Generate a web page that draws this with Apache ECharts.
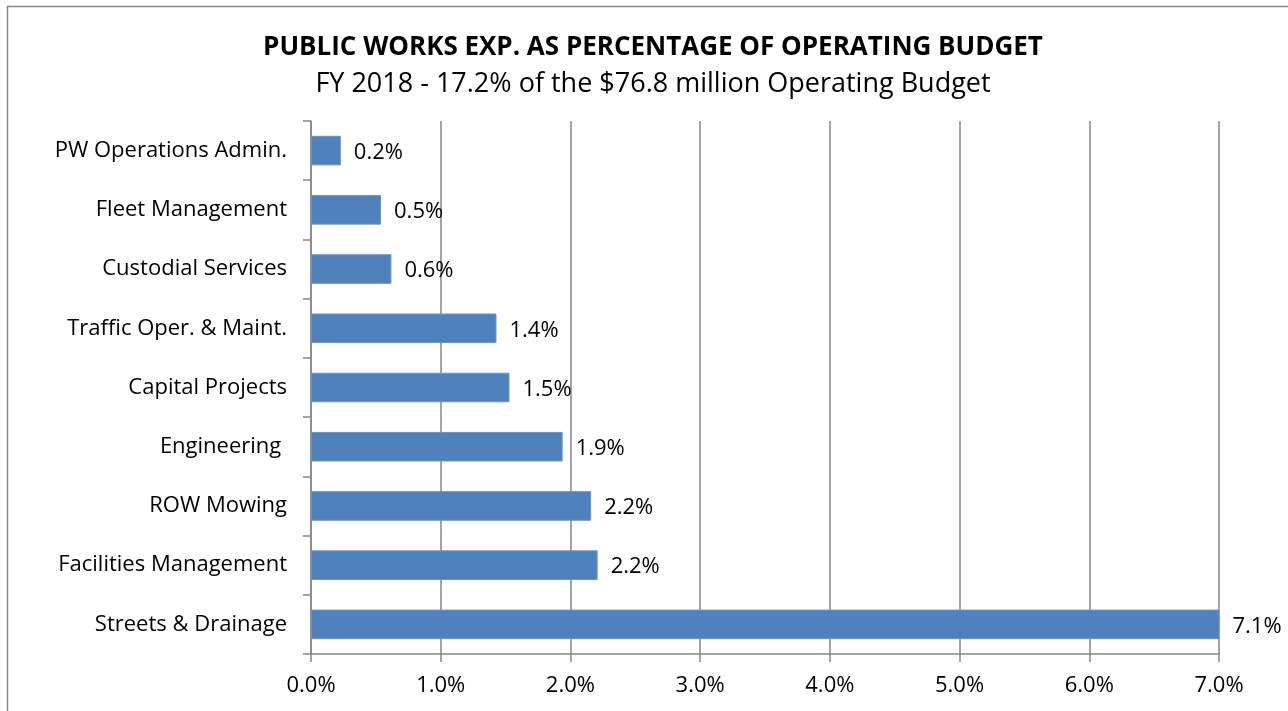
<!DOCTYPE html>
<html>
<head>
<meta charset="utf-8">
<script src="https://cdn.jsdelivr.net/npm/echarts@6/dist/echarts.min.js"></script>
<style>
  html, body { margin: 0; padding: 0; background: #fff; }
  #chart { width: 1288px; height: 711px; }
</style>
</head>
<body>
<div id="chart"></div>
<script>
// Departments, top to bottom
const categories = [
  'PW Operations Admin.',
  'Fleet Management',
  'Custodial Services',
  'Traffic Oper. & Maint.',
  'Capital Projects',
  'Engineering ',
  'ROW Mowing',
  'Facilities Management',
  'Streets & Drainage'
];
// Share of the operating budget, in percent
const shares = [0.23, 0.54, 0.62, 1.43, 1.53, 1.94, 2.16, 2.21, 7.1];
// Value axis range and step, in percent
const axisMin = 0;
const axisMax = 7;
const axisStep = 1;

const titleText = 'PUBLIC WORKS EXP. AS PERCENTAGE OF OPERATING BUDGET';
const subtitleText = 'FY 2018 - 17.2% of the $76.8 million Operating Budget';

const FONT = '"Open Sans", "Noto Sans", sans-serif';
const AXIS_GRAY = '#868686';

const chart = echarts.init(document.getElementById('chart'), null, { renderer: 'canvas' });

chart.setOption({
  backgroundColor: '#ffffff',
  animation: false,
  title: [
    {
      text: titleText,
      left: 648, top: 30, textAlign: 'center',
      textStyle: { fontFamily: FONT, fontSize: 26, fontWeight: 'bold', color: '#000' }
    },
    {
      text: subtitleText,
      left: 648, top: 66, textAlign: 'center',
      textStyle: { fontFamily: FONT, fontSize: 27, fontWeight: 'normal', color: '#000' }
    }
  ],
  graphic: [
    {
      type: 'rect',
      shape: { x: 7.5, y: 6.5, width: 1400, height: 800 },
      style: { fill: 'none', stroke: AXIS_GRAY, lineWidth: 1.5 },
      silent: true
    }
  ],
  grid: { left: 311, right: 69, top: 121, bottom: 57, containLabel: false },
  xAxis: {
    type: 'value',
    min: axisMin, max: axisMax, interval: axisStep,
    axisLine: { show: true, lineStyle: { color: AXIS_GRAY, width: 1.5 } },
    axisTick: { show: true, length: 8, lineStyle: { color: AXIS_GRAY, width: 1.5 } },
    splitLine: { show: true, lineStyle: { color: AXIS_GRAY, width: 1.5 } },
    axisLabel: {
      margin: 21,
      fontFamily: FONT, fontSize: 22, color: '#000',
      formatter: v => v.toFixed(1) + '%'
    }
  },
  yAxis: {
    type: 'category',
    data: categories,
    inverse: true,
    axisLine: { show: true, lineStyle: { color: AXIS_GRAY, width: 1.5 } },
    axisTick: { show: true, length: 8, alignWithLabel: false, lineStyle: { color: AXIS_GRAY, width: 1.5 } },
    splitLine: { show: false },
    axisLabel: {
      margin: 24,
      fontFamily: FONT, fontSize: 22, color: '#000'
    }
  },
  series: [
    {
      type: 'bar',
      data: shares,
      barCategoryGap: '50%',
      clip: true,
      itemStyle: { color: '#4F81BD', borderColor: '#6B95C8', borderWidth: 1 },
      label: {
        show: true,
        position: 'right',
        distance: 13,
        offset: [0, 2],
        fontFamily: FONT, fontSize: 22, color: '#000',
        formatter: p => p.value.toFixed(1) + '%'
      }
    }
  ]
});
</script>
</body>
</html>
